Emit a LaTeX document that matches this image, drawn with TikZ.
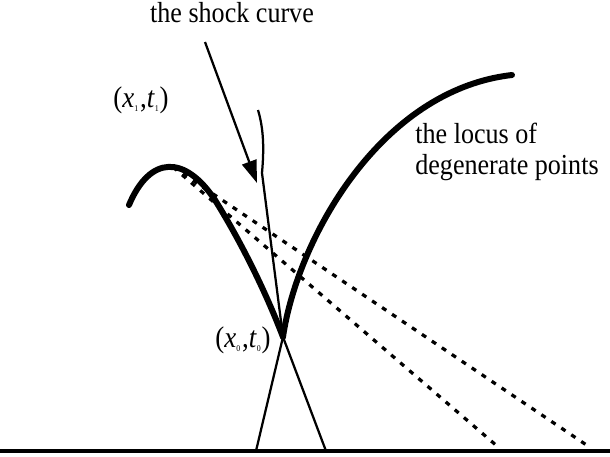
\documentclass[tikz,border=0pt]{standalone}
\usepackage{fontspec}
\setmainfont{Liberation Serif}[FakeStretch=0.9]
\usepackage{tikz}
\usetikzlibrary{arrows.meta,positioning,calc}

\newcommand{\ptlabel}[2]{(\textit{#1}\textsubscript{\tiny #2}\kern.5pt,\textit{t}\textsubscript{\tiny #2})}

\begin{document}
\begin{tikzpicture}[
    x=0.02cm, y=-0.02cm,
    locus/.style={line width=0.12cm, line cap=round},
    thin/.style={line width=0.045cm},
    tangent/.style={line width=0.065cm, dash pattern=on 0.1cm off 0.14cm},
    axis/.style={line width=0.09cm},
    arr/.style={-{Triangle[length=0.45cm, width=0.3cm]}, line width=0.045cm},
    lbl/.style={font=\fontsize{16.5}{19}\selectfont, inner sep=0pt},
    mlbl/.style={font=\fontsize{17}{20}\selectfont, inner sep=0pt}
]
    \useasboundingbox (0,0) rectangle (610,457);

    % points
    \coordinate (p0) at (283,337);
    \coordinate (p1) at (173,167);
    \coordinate (arrowtail) at (205,42);
    \coordinate (arrowtip) at (257,183);
    \coordinate (baseL) at (0,451);
    \coordinate (baseR) at (610,451);

    % labels
    \node [lbl, anchor=base] (shock) at (232,22) {the shock curve};
    \node [lbl, anchor=base west] (locus) at (415,143) {the locus of};
    \node [lbl, anchor=base west] (degen) at (415,174) {degenerate points};
    \node [mlbl] (lab1) at (141,100) {\ptlabel{x}{1}};
    \node [mlbl] (lab0) at (243,340) {\ptlabel{x}{0}};

    % the x-axis
    \draw [axis] (baseL) -- (baseR);

    % tangent (dashed) lines from (x1,t1)
    \draw [tangent] (p1) -- (588,446);
    \draw [tangent] (p1) -- (497,446);

    % locus of degenerate points
    \draw [locus] (129,205) .. controls (150,155) and (185,155) .. (215,200)
        .. controls (240,240) and (265,290) .. (p0);
    \draw [locus] (p0) .. controls (297,240) and (380,90) .. (512,75);

    % shock curve and characteristics
    \draw [thin] (258,110) .. controls (264,130) and (264,150) .. (262,173) -- (p0);
    \draw [thin] (p0) -- (326,451);
    \draw [thin] (p0) -- (256,451);

    % arrow to the shock
    \draw [arr] (arrowtail) -- (arrowtip);
\end{tikzpicture}
\end{document}
